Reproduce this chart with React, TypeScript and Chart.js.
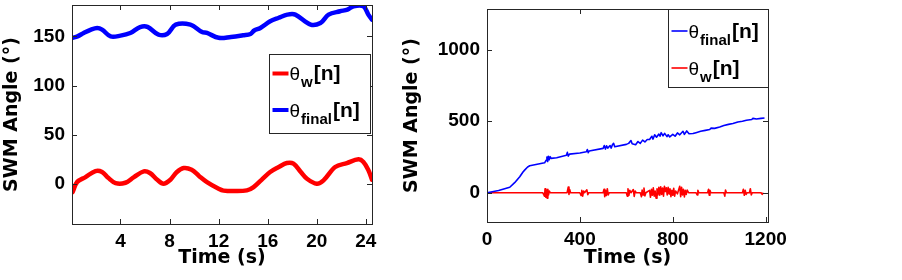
import React, { useEffect, useRef } from 'react';
import { Chart, registerables } from 'chart.js';

Chart.register(...registerables);

// ---------- Left panel data (0–24.5 s) ----------
const leftFinalTime = [0.1, 0.5, 1.0, 1.6, 2.1, 2.5, 3.2, 4.0, 4.8, 5.6, 6.2, 7.1, 7.8, 8.5, 9.7, 10.65, 11.05, 12.0, 13.0, 14.0, 14.6, 14.9, 15.4, 16.2, 16.9, 17.6, 18.25, 19.5, 20.3, 20.96, 21.9, 22.5, 23.0, 23.8, 24.2, 24.5];
const leftFinalAngle = [148.6, 150, 153.5, 157, 158.6, 157, 150, 150.8, 153.5, 159.5, 159.7, 151.8, 152.5, 162, 162, 154.5, 153.5, 148.6, 149.5, 151.2, 152.5, 156, 158.6, 165.4, 169, 172.2, 172.2, 162, 163.7, 172.2, 175.6, 177.3, 180.7, 180.7, 172.2, 167];
const leftWTime = [0.1, 0.47, 1.15, 1.96, 2.5, 3.0, 3.6, 4.4, 5.1, 5.9, 6.4, 7.0, 7.5, 8.07, 8.6, 9.15, 9.8, 10.4, 11.05, 12.0, 12.4, 13.3, 14.3, 14.85, 15.5, 16.2, 16.9, 17.56, 18.1, 18.7, 19.2, 20.0, 20.55, 21.5, 22.45, 23.4, 23.8, 24.2, 24.5];
const leftWAngle = [-8.6, 1.7, 6.8, 12.9, 12, 6, 0.6, 1, 6.8, 12.6, 10.9, 4, 0, 4.1, 12, 16, 14.3, 8, 1.7, -5.1, -7, -7.5, -6.8, -3.4, 4, 11.9, 17, 21.1, 20.5, 12, 5.1, 0, 3.4, 17, 21.1, 24.9, 22.1, 14, 4.1];
const leftXTicks = [4, 8, 12, 16, 20, 24];
const leftYTicks = [0, 50, 100, 150];
const leftXRange = [0.05, 24.5];
const leftYRange = [-41, 182];

// ---------- Right panel data (0–1200 s) ----------
const rightFinalTime = [0, 50, 98, 119, 141, 155, 162, 175, 184, 248, 255, 258, 261, 264, 268, 272, 276, 300, 342, 346, 350, 355, 400, 428, 432, 436, 440, 500, 505, 510, 515, 520, 530, 535, 540, 545, 550, 600, 610, 620, 625, 640, 650, 660, 670, 680, 690, 700, 710, 715, 722, 730, 740, 745, 750, 758, 765, 775, 780, 787, 800, 810, 820, 830, 844, 850, 860, 870, 887, 900, 920, 940, 959, 965, 980, 1002, 1020, 1040, 1059, 1080, 1100, 1117, 1140, 1145, 1160, 1180, 1195];
const rightFinalAngle = [0, 15, 38, 70, 112, 145, 158, 180, 188, 209, 228, 250, 218, 255, 230, 252, 240, 245, 262, 282, 256, 270, 278, 286, 302, 280, 292, 310, 330, 305, 328, 312, 330, 312, 336, 345, 322, 338, 345, 365, 342, 336, 358, 345, 368, 355, 372, 372, 395, 375, 405, 388, 410, 395, 420, 398, 415, 392, 405, 390, 408, 395, 418, 405, 430, 408, 432, 412, 414, 420, 430, 436, 442, 452, 450, 460, 470, 478, 484, 495, 500, 507, 512, 520, 515, 520, 523];
const rightWTime = [0, 240, 248, 250, 253, 256, 259, 262, 265, 268, 272, 345, 350, 353, 356, 360, 400, 405, 408, 412, 416, 420, 430, 434, 438, 500, 504, 507, 510, 514, 518, 522, 526, 540, 600, 604, 607, 611, 615, 620, 630, 634, 638, 642, 660, 665, 668, 672, 676, 680, 684, 700, 704, 708, 712, 716, 720, 724, 728, 732, 736, 740, 744, 748, 752, 756, 760, 764, 768, 772, 776, 780, 784, 788, 792, 796, 800, 804, 808, 812, 820, 830, 834, 838, 842, 846, 850, 854, 858, 862, 868, 900, 905, 908, 912, 950, 954, 957, 960, 964, 1020, 1024, 1027, 1031, 1100, 1104, 1108, 1112, 1116, 1120, 1130, 1134, 1138, 1142, 1180, 1185, 1190];
const rightWAngle = [0, 0, -25, 28, -32, 20, -38, 24, -16, 12, 0, 0, 40, -12, 22, 0, 0, -20, 16, -24, 12, 0, 20, -14, 0, 0, 24, -28, 16, -20, 28, -16, 0, 0, 0, -24, 28, -18, 16, 0, 22, -26, 12, 0, 0, -28, 18, -16, 32, -22, 0, 16, -32, 24, -18, 34, -24, 12, -38, 28, -16, 38, -18, 42, -12, 32, -24, 45, 8, 34, -16, 38, -8, 28, -28, 16, -18, 30, -24, 12, -8, 45, -28, 38, -16, 24, -30, 16, -12, 18, 0, 0, -16, 16, 0, 0, 24, -18, 16, 0, 0, -24, 18, 0, 0, 24, -18, 16, -12, 0, 0, 28, -16, 0, 0, -12, 0];
const rightXTicks = [0, 400, 800, 1200];
const rightYTicks = [0, 500, 1000];
const rightXRange = [0, 1210];
const rightYRange = [-205, 1285];

const xTitle = 'Time (s)';
const yTitle = 'SWM Angle (°)';
const thetaSymbol = 'θ';
const indexSuffix = '[n]';
const leftLegend = [
  { sub: 'w', color: '#ff0000' },
  { sub: 'final', color: '#0000ff' },
];
const rightLegend = [
  { sub: 'final', color: '#0000ff' },
  { sub: 'w', color: '#ff0000' },
];

const pts = (xs: number[], ys: number[]) => xs.map((x, i) => ({ x, y: ys[i] }));

type LegendSpec = {
  entries: { sub: string; color: string }[];
  box: [number, number, number, number];
  firstY: number;
  gap: number;
  lineW: number;
  thetaSize: number;
  subSize: number;
  idxSize: number;
};

function frameAndLegend(xTicks: number[], yTicks: number[], legend: LegendSpec) {
  return {
    id: 'frameAndLegend',
    afterDatasetsDraw(chart: any) {
      const { ctx, chartArea } = chart;
      const { left, right, top, bottom } = chartArea;
      const xs = chart.scales.x;
      const ys = chart.scales.y;
      ctx.save();
      ctx.strokeStyle = '#262626';
      ctx.lineWidth = 1;
      ctx.strokeRect(Math.round(left) + 0.5, Math.round(top) + 0.5, Math.round(right - left), Math.round(bottom - top));
      const tl = 5;
      ctx.beginPath();
      xTicks.forEach((v) => {
        const p = Math.round(xs.getPixelForValue(v)) + 0.5;
        ctx.moveTo(p, bottom);
        ctx.lineTo(p, bottom - tl);
        ctx.moveTo(p, top);
        ctx.lineTo(p, top + tl);
      });
      yTicks.forEach((v) => {
        const p = Math.round(ys.getPixelForValue(v)) + 0.5;
        ctx.moveTo(left, p);
        ctx.lineTo(left + tl, p);
        ctx.moveTo(right, p);
        ctx.lineTo(right - tl, p);
      });
      ctx.stroke();

      const [fromRight, bTop, bW, bH] = legend.box;
      const bx = Math.round(right - fromRight) + 0.5;
      const by = Math.round(top + bTop) + 0.5;
      ctx.fillStyle = '#ffffff';
      ctx.fillRect(bx, by, bW, bH);
      ctx.strokeStyle = '#262626';
      ctx.lineWidth = 1;
      ctx.strokeRect(bx, by, bW, bH);
      legend.entries.forEach((e, i) => {
        const y = by + legend.firstY + i * legend.gap;
        ctx.strokeStyle = e.color;
        ctx.lineWidth = legend.lineW;
        ctx.lineCap = 'butt';
        ctx.beginPath();
        ctx.moveTo(bx + 3, y);
        ctx.lineTo(bx + 19, y);
        ctx.stroke();
        let x = bx + 20;
        const base = y + 6.5;
        ctx.fillStyle = '#000';
        ctx.textBaseline = 'alphabetic';
        ctx.textAlign = 'left';
        ctx.font = `normal ${legend.thetaSize}px "Liberation Sans"`;
        ctx.fillText(thetaSymbol, x, base);
        x += ctx.measureText(thetaSymbol).width + 1;
        ctx.font = `bold ${legend.subSize}px "Liberation Sans"`;
        ctx.fillText(e.sub, x, base + 7);
        x += ctx.measureText(e.sub).width + 1;
        ctx.font = `bold ${legend.idxSize}px "Liberation Sans"`;
        ctx.fillText(indexSuffix, x, base);
      });
      ctx.restore();
    },
  };
}

function buildConfig(p: {
  datasets: any[];
  xRange: number[];
  yRange: number[];
  xTicks: number[];
  yTicks: number[];
  yAxisWidth: number;
  xAxisHeight: number;
  padTop: number;
  padRight: number;
  yTitlePad: number;
  legend: LegendSpec;
}) {
  const tickFont = { family: 'Liberation Sans', weight: 'bold' as const, size: 19 };
  const titleFont = { family: 'DejaVu Sans', weight: 'bold' as const, size: 19 };
  return {
    type: 'line' as const,
    data: { datasets: p.datasets },
    options: {
      animation: false as const,
      responsive: false,
      maintainAspectRatio: false,
      layout: { padding: { top: p.padTop, right: p.padRight, left: 0, bottom: 0 } },
      plugins: { legend: { display: false }, tooltip: { enabled: false } },
      elements: { point: { radius: 0 } },
      scales: {
        x: {
          type: 'linear' as const,
          min: p.xRange[0],
          max: p.xRange[1],
          grid: { display: false, drawTicks: false, tickLength: 0 },
          border: { display: false },
          afterBuildTicks: (s: any) => { s.ticks = p.xTicks.map((v) => ({ value: v })); },
          afterFit: (s: any) => { s.height = p.xAxisHeight; s.paddingLeft = 0; s.paddingRight = 0; },
          ticks: { font: tickFont, color: '#000', padding: 6, maxRotation: 0, autoSkip: false, callback: (v: any) => String(v) },
          title: { display: true, text: xTitle, font: titleFont, color: '#000', padding: { top: 0, bottom: 11 } },
        },
        y: {
          type: 'linear' as const,
          min: p.yRange[0],
          max: p.yRange[1],
          grid: { display: false, drawTicks: false, tickLength: 0 },
          border: { display: false },
          afterBuildTicks: (s: any) => { s.ticks = p.yTicks.map((v) => ({ value: v })); },
          afterFit: (s: any) => { s.width = p.yAxisWidth; s.paddingTop = 0; s.paddingBottom = 0; },
          ticks: { font: tickFont, color: '#000', padding: 7, autoSkip: false, callback: (v: any) => String(v) },
          title: { display: true, text: yTitle, font: titleFont, color: '#000', padding: { top: p.yTitlePad, bottom: 0 } },
        },
      },
    },
    plugins: [frameAndLegend(p.xTicks, p.yTicks, p.legend)],
  };
}

export default function App() {
  const leftRef = useRef<HTMLCanvasElement>(null);
  const rightRef = useRef<HTMLCanvasElement>(null);

  useEffect(() => {
    const thick = { borderWidth: 4.5, tension: 0.35, borderJoinStyle: 'round', borderCapStyle: 'round', fill: false, pointRadius: 0 };
    const thin = { borderWidth: 1.6, tension: 0, borderJoinStyle: 'round', fill: false, pointRadius: 0 };
    const left = new Chart(leftRef.current as HTMLCanvasElement, buildConfig({
      datasets: [
        { label: 'θfinal[n]', data: pts(leftFinalTime, leftFinalAngle), borderColor: '#0000ff', ...thick },
        { label: 'θw[n]', data: pts(leftWTime, leftWAngle), borderColor: '#ff0000', ...thick },
      ],
      xRange: leftXRange, yRange: leftYRange, xTicks: leftXTicks, yTicks: leftYTicks,
      yAxisWidth: 72, xAxisHeight: 56, padTop: 5, padRight: 18, yTitlePad: 1,
      legend: { entries: leftLegend, box: [103, 49, 101, 79], firstY: 19, gap: 36.5, lineW: 4, thetaSize: 19, subSize: 15, idxSize: 21 },
    }) as any);
    const right = new Chart(rightRef.current as HTMLCanvasElement, buildConfig({
      datasets: [
        { label: 'θfinal[n]', data: pts(rightFinalTime, rightFinalAngle), borderColor: '#0000ff', ...thin },
        { label: 'θw[n]', data: pts(rightWTime, rightWAngle), borderColor: '#ff0000', ...thin },
      ],
      xRange: rightXRange, yRange: rightYRange, xTicks: rightXTicks, yTicks: rightYTicks,
      yAxisWidth: 97, xAxisHeight: 58, padTop: 9, padRight: 134, yTitlePad: 11,
      legend: { entries: rightLegend, box: [100, 0, 100, 78], firstY: 21.5, gap: 37, lineW: 1.6, thetaSize: 19, subSize: 15, idxSize: 21 },
    }) as any);
    return () => { left.destroy(); right.destroy(); };
  }, []);

  return (
    <div style={{ position: 'fixed', left: 0, top: 0, width: 902, height: 280, background: '#fff' }}>
      <canvas ref={leftRef} width={390} height={280} style={{ position: 'absolute', left: 0, top: 0, width: 390, height: 280 }} />
      <canvas ref={rightRef} width={512} height={280} style={{ position: 'absolute', left: 390, top: 0, width: 512, height: 280 }} />
    </div>
  );
}
